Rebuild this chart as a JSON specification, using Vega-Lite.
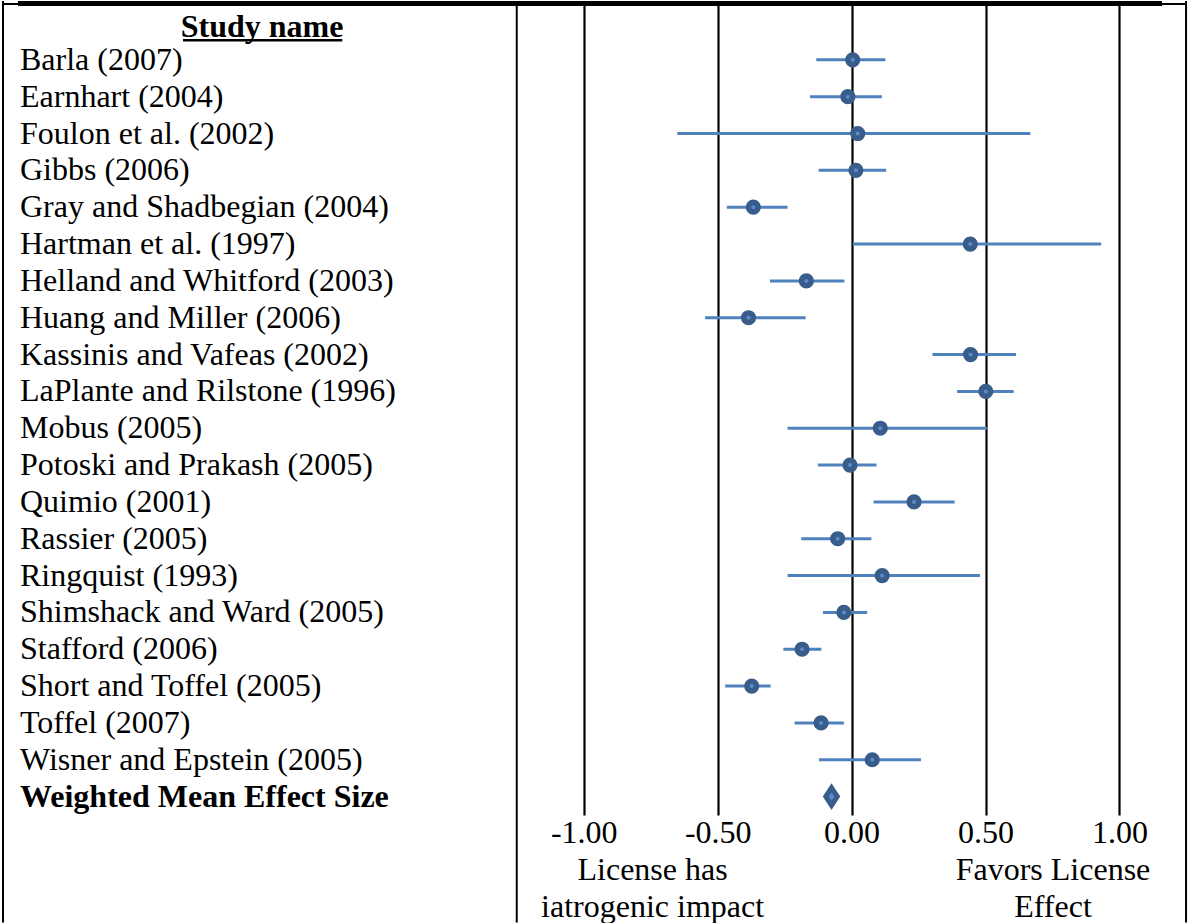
{
  "$schema": "https://vega.github.io/schema/vega-lite/v6.json",
  "padding": 0,
  "spacing": 0,
  "bounds": "flush",
  "background": "white",
  "config": {"view": {"stroke": null}, "font": "Liberation Serif"},
  "datasets": {
    "studies": [
      {"row": 1, "study": "Barla (2007)", "kind": "study", "es": 0.004, "lo": -0.132, "hi": 0.126},
      {"row": 2, "study": "Earnhart (2004)", "kind": "study", "es": -0.014, "lo": -0.155, "hi": 0.113},
      {"row": 3, "study": "Foulon et al. (2002)", "kind": "study", "es": 0.023, "lo": -0.651, "hi": 0.667},
      {"row": 4, "study": "Gibbs (2006)", "kind": "study", "es": 0.016, "lo": -0.123, "hi": 0.129},
      {"row": 5, "study": "Gray and Shadbegian (2004)", "kind": "study", "es": -0.367, "lo": -0.466, "hi": -0.239},
      {"row": 6, "study": "Hartman et al. (1997)", "kind": "study", "es": 0.443, "lo": 0.004, "hi": 0.932},
      {"row": 7, "study": "Helland and Whitford (2003)", "kind": "study", "es": -0.169, "lo": -0.305, "hi": -0.027},
      {"row": 8, "study": "Huang and Miller (2006)", "kind": "study", "es": -0.385, "lo": -0.547, "hi": -0.172},
      {"row": 9, "study": "Kassinis and Vafeas (2002)", "kind": "study", "es": 0.444, "lo": 0.302, "hi": 0.614},
      {"row": 10, "study": "LaPlante and Rilstone (1996)", "kind": "study", "es": 0.501, "lo": 0.394, "hi": 0.605},
      {"row": 11, "study": "Mobus (2005)", "kind": "study", "es": 0.107, "lo": -0.239, "hi": 0.505},
      {"row": 12, "study": "Potoski and Prakash (2005)", "kind": "study", "es": -0.006, "lo": -0.126, "hi": 0.093},
      {"row": 13, "study": "Quimio (2001)", "kind": "study", "es": 0.233, "lo": 0.082, "hi": 0.385},
      {"row": 14, "study": "Rassier (2005)", "kind": "study", "es": -0.052, "lo": -0.188, "hi": 0.074},
      {"row": 15, "study": "Ringquist (1993)", "kind": "study", "es": 0.114, "lo": -0.239, "hi": 0.479},
      {"row": 16, "study": "Shimshack and Ward (2005)", "kind": "study", "es": -0.029, "lo": -0.107, "hi": 0.058},
      {"row": 17, "study": "Stafford (2006)", "kind": "study", "es": -0.185, "lo": -0.255, "hi": -0.113},
      {"row": 18, "study": "Short and Toffel (2005)", "kind": "study", "es": -0.373, "lo": -0.472, "hi": -0.302},
      {"row": 19, "study": "Toffel (2007)", "kind": "study", "es": -0.114, "lo": -0.213, "hi": -0.029},
      {"row": 20, "study": "Wisner and Epstein (2005)", "kind": "study", "es": 0.077, "lo": -0.122, "hi": 0.259},
      {"row": 21, "study": "Weighted Mean Effect Size", "kind": "summary", "es": -0.075, "lo": null, "hi": null}
    ]
  },
  "hconcat": [
    {
      "width": 517,
      "height": 814,
      "data": {"name": "studies"},
      "layer": [
        {
          "transform": [{"filter": "datum.kind == 'study'"}],
          "mark": {"type": "text", "align": "left", "baseline": "middle", "fontSize": 32, "font": "Liberation Serif", "color": "black"},
          "encoding": {
            "x": {"datum": 0.0387, "type": "quantitative", "scale": {"domain": [0, 1], "nice": false, "zero": false}, "axis": null},
            "y": {"field": "row", "type": "quantitative", "scale": {"domain": [-0.598, 21.5], "reverse": true, "nice": false, "zero": false}, "axis": null},
            "text": {"field": "study"}
          }
        },
        {
          "transform": [{"filter": "datum.kind == 'summary'"}],
          "mark": {"type": "text", "align": "left", "baseline": "middle", "fontSize": 32, "font": "Liberation Serif", "fontWeight": "bold", "color": "black"},
          "encoding": {
            "x": {"datum": 0.0387, "type": "quantitative", "axis": null},
            "y": {"field": "row", "type": "quantitative", "axis": null},
            "text": {"field": "study"}
          }
        },
        {
          "data": {"values": [{"label": "Study name"}]},
          "mark": {"type": "text", "align": "center", "baseline": "middle", "fontSize": 32, "font": "Liberation Serif", "fontWeight": "bold", "color": "black"},
          "encoding": {
            "x": {"datum": 0.507, "type": "quantitative", "axis": null},
            "y": {"datum": 0.1, "type": "quantitative", "axis": null},
            "text": {"field": "label"}
          }
        },
        {
          "data": {"values": [{"label": "underline"}]},
          "mark": {"type": "rule", "color": "black", "strokeWidth": 2.5},
          "encoding": {
            "x": {"datum": 0.354, "type": "quantitative", "axis": null},
            "x2": {"datum": 0.662},
            "y": {"datum": 0.47, "type": "quantitative", "axis": null}
          }
        },
        {
          "data": {"values": [{"edge": "left", "pos": 0.0058}, {"edge": "divider", "pos": 0.9995}]},
          "mark": {"type": "rule", "color": "black", "strokeWidth": 2},
          "encoding": {
            "x": {"field": "pos", "type": "quantitative", "axis": null},
            "y": {"datum": -0.598, "type": "quantitative", "axis": null},
            "y2": {"datum": 24.42}
          }
        },
        {
          "data": {"values": [{"edge": "top"}]},
          "mark": {"type": "rule", "color": "black", "strokeWidth": 2},
          "encoding": {
            "x": {"datum": 0.0039, "type": "quantitative", "axis": null},
            "x2": {"datum": 1},
            "y": {"datum": -0.516, "type": "quantitative", "axis": null}
          }
        },
        {
          "data": {"values": [{"edge": "topbar"}]},
          "mark": {"type": "rule", "color": "black", "strokeWidth": 5},
          "encoding": {
            "x": {"datum": 0.0348, "type": "quantitative", "axis": null},
            "x2": {"datum": 1},
            "y": {"datum": -0.53, "type": "quantitative", "axis": null}
          }
        }
      ]
    },
    {
      "width": 671,
      "height": 814,
      "data": {"name": "studies"},
      "layer": [
        {
          "transform": [{"filter": "datum.kind == 'study'"}],
          "mark": {"type": "rule", "color": "#4F81BD", "strokeWidth": 3},
          "encoding": {
            "x": {
              "field": "lo",
              "type": "quantitative",
              "scale": {"domain": [-1.2494, 1.256], "nice": false, "zero": false},
              "axis": {
                "title": null,
                "values": [-1, -0.745, -0.5, 0, 0.5, 0.75, 1],
                "labelExpr": "datum.value == -0.745 ? ['', 'License has', 'iatrogenic impact'] : datum.value == 0.75 ? ['', 'Favors License', 'Effect'] : (datum.value < 0 ? '-' + format(-datum.value, '.2f') : format(datum.value, '.2f'))",
                "domain": false,
                "ticks": false,
                "grid": true,
                "gridColor": "black",
                "gridWidth": 2.2,
                "gridOpacity": {"condition": {"test": "datum.value == -0.745 || datum.value == 0.75", "value": 0}, "value": 1},
                "labelFont": "Liberation Serif",
                "labelFontSize": 32,
                "labelColor": "black",
                "labelPadding": 2,
                "labelLineHeight": 37,
                "labelLimit": 0,
                "labelFlush": false,
                "labelOverlap": false,
                "labelBound": false
              }
            },
            "x2": {"field": "hi"},
            "y": {"field": "row", "type": "quantitative", "scale": {"domain": [-0.598, 21.5], "reverse": true, "nice": false, "zero": false}, "axis": null}
          }
        },
        {
          "transform": [{"filter": "datum.kind == 'study'"}],
          "mark": {"type": "point", "shape": "circle", "filled": true, "size": 230, "color": "#385D8A", "opacity": 1},
          "encoding": {
            "x": {"field": "es", "type": "quantitative"},
            "y": {"field": "row", "type": "quantitative"}
          }
        },
        {
          "transform": [{"filter": "datum.kind == 'study'"}],
          "mark": {"type": "point", "shape": "circle", "filled": true, "size": 16, "color": "#5B8BC8", "opacity": 1},
          "encoding": {
            "x": {"field": "es", "type": "quantitative"},
            "y": {"field": "row", "type": "quantitative"}
          }
        },
        {
          "transform": [{"filter": "datum.kind == 'summary'"}],
          "mark": {"type": "point", "shape": "M-0.65,0L0,-1L0.65,0L0,1Z", "filled": true, "size": 720, "color": "#385D8A", "opacity": 1},
          "encoding": {
            "x": {"field": "es", "type": "quantitative"},
            "y": {"field": "row", "type": "quantitative"}
          }
        },
        {
          "transform": [{"filter": "datum.kind == 'summary'"}],
          "mark": {"type": "point", "shape": "M-0.65,0L0,-1L0.65,0L0,1Z", "filled": true, "size": 70, "color": "#5B8BC8", "opacity": 1},
          "encoding": {
            "x": {"field": "es", "type": "quantitative"},
            "y": {"field": "row", "type": "quantitative"}
          }
        },
        {
          "data": {"values": [{"edge": "right"}]},
          "mark": {"type": "rule", "color": "black", "strokeWidth": 2},
          "encoding": {
            "x": {"datum": 1.2487, "type": "quantitative"},
            "y": {"datum": -0.598, "type": "quantitative"},
            "y2": {"datum": 24.42}
          }
        },
        {
          "data": {"values": [{"edge": "top"}]},
          "mark": {"type": "rule", "color": "black", "strokeWidth": 2},
          "encoding": {
            "x": {"datum": -1.2494, "type": "quantitative"},
            "x2": {"datum": 1.2487},
            "y": {"datum": -0.516, "type": "quantitative"}
          }
        },
        {
          "data": {"values": [{"edge": "topbar"}]},
          "mark": {"type": "rule", "color": "black", "strokeWidth": 5},
          "encoding": {
            "x": {"datum": -1.2494, "type": "quantitative"},
            "x2": {"datum": 1.159},
            "y": {"datum": -0.53, "type": "quantitative"}
          }
        }
      ]
    }
  ]
}
